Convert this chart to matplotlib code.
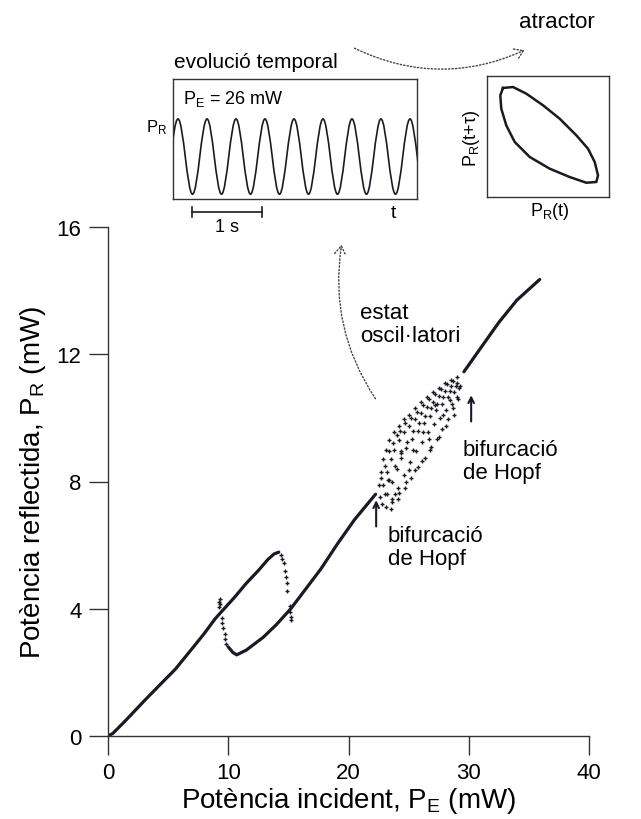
import matplotlib
matplotlib.use("Agg")
import matplotlib.pyplot as plt
from matplotlib.path import Path
from matplotlib.patches import PathPatch, FancyArrowPatch

plt.rcParams['font.family'] = ['Liberation Sans', 'DejaVu Sans']
plt.rcParams['mathtext.fontset'] = 'custom'
plt.rcParams['mathtext.rm'] = 'Liberation Sans'
plt.rcParams['mathtext.it'] = 'Liberation Sans:italic'

INK = '#1a1a24'

# ---------------- data ----------------
# upper stable branch starting at origin (mW)
up_x = [0.0, 0.4, 1.5, 3.0, 4.5, 5.6, 7.0, 8.0, 8.9, 9.3, 10.5, 11.5, 12.5, 13.3, 13.8, 14.2]
up_y = [0.0, 0.08, 0.5, 1.1, 1.68, 2.1, 2.75, 3.22, 3.68, 3.85, 4.35, 4.8, 5.2, 5.55, 5.72, 5.78]
# lower branch up to first Hopf bifurcation
low_x = [10.0, 10.4, 10.7, 11.5, 12.9, 14.0, 15.2, 16.5, 17.7, 19.1, 20.5, 22.25]
low_y = [2.8, 2.62, 2.55, 2.7, 3.1, 3.5, 4.0, 4.65, 5.25, 6.05, 6.8, 7.6]
# branch after the second Hopf bifurcation
top_x = [29.6, 31.0, 32.5, 34.0, 35.9]
top_y = [11.45, 12.2, 13.0, 13.7, 14.35]
# transition (jump) points
jump_x = [14.35, 14.5, 14.6, 14.75, 14.8, 14.9, 14.9, 15.1, 15.15, 15.2, 15.25,
          9.2, 9.25, 9.3, 9.35, 9.45, 9.5, 9.6, 9.7, 9.75, 9.85]
jump_y = [5.7, 5.55, 5.45, 5.2, 5.0, 4.8, 4.55, 4.1, 3.9, 3.75, 3.65,
          4.05, 4.2, 4.3, 4.15, 3.7, 3.55, 3.4, 3.2, 3.05, 2.9]
# oscillating-state samples between the two Hopf bifurcations
osc_x = [22.5, 22.7, 22.9, 23.1, 23.4, 23.8, 24.2, 24.6, 25.0, 25.5, 26.0, 26.5, 27.0, 27.5, 28.0, 28.5, 29.0,
         22.6, 22.9, 23.2, 23.5, 23.8, 24.2, 24.6, 25.0, 25.5, 26.0, 26.5, 27.0, 27.5, 28.0, 28.5, 29.0,
         22.8, 23.2, 23.6, 24.0, 24.4, 24.8, 25.3, 25.8, 26.3, 26.8, 27.3, 27.8, 28.3, 28.8, 29.2,
         23.1, 23.6, 24.1, 24.6, 25.1, 25.6, 26.1, 26.6, 27.1, 27.6, 28.1, 28.6, 29.0,
         23.5, 24.1, 24.7, 25.2, 25.8, 26.4, 26.9, 27.4, 27.8, 28.25, 28.7, 29.1, 29.3,
         23.3, 24.4, 25.4, 26.2, 27.2, 28.4, 23.9, 25.0, 26.7, 27.9,
         22.7, 23.0, 23.4, 23.7, 24.0, 24.3, 24.7, 25.2, 25.7, 26.2, 26.7, 27.2, 27.7, 28.2, 28.7,
         23.0, 23.4, 23.9, 24.4, 24.9, 25.4, 25.9, 26.4, 26.9, 27.4, 27.9, 28.4, 28.9,
         23.6, 24.2, 24.8, 25.5, 26.1, 26.8, 27.5, 28.1, 28.8]
osc_y = [7.9, 8.3, 8.7, 9.0, 9.3, 9.55, 9.75, 9.95, 10.1, 10.3, 10.5, 10.65, 10.8, 10.95, 11.1, 11.2, 11.3,
         7.5, 7.9, 8.3, 8.7, 9.0, 9.3, 9.55, 9.75, 9.95, 10.15, 10.35, 10.5, 10.7, 10.85, 11.0, 11.1,
         7.3, 7.6, 8.0, 8.4, 8.75, 9.05, 9.35, 9.6, 9.85, 10.05, 10.25, 10.45, 10.65, 10.8, 10.95,
         7.2, 7.45, 7.8, 8.2, 8.6, 8.95, 9.25, 9.55, 9.8, 10.0, 10.25, 10.45, 10.65,
         7.15, 7.45, 7.8, 8.1, 8.45, 8.75, 9.1, 9.35, 9.65, 9.95, 10.3, 10.6, 11.0,
         8.05, 8.95, 9.0, 9.55, 10.4, 10.55, 7.6, 8.35, 9.35, 10.1,
         8.1, 8.5, 8.95, 9.2, 9.45, 9.6, 9.85, 10.0, 10.2, 10.4, 10.6, 10.75, 10.9, 11.05, 11.15,
         7.6, 8.05, 8.5, 8.9, 9.25, 9.6, 9.85, 10.05, 10.3, 10.45, 10.65, 10.85, 11.0,
         7.35, 7.65, 8.0, 8.35, 8.65, 9.0, 9.4, 9.75, 10.1]

x_ticks = [0, 10, 20, 30, 40]
y_ticks = [0, 4, 8, 12, 16]

# time-trace inset: times (s) of successive maxima/minima and their levels
ext_t = [-0.136, 0.071, 0.279, 0.486, 0.693, 0.900, 1.107, 1.314, 1.521, 1.729, 1.936,
         2.143, 2.350, 2.557, 2.764, 2.971, 3.179, 3.386, 3.593]
ext_v = [0, 1, 0, 1, 0, 1, 0, 1, 0, 1, 0, 1, 0, 1, 0, 1, 0, 1, 0]
# attractor loop (normalised box units)
att_u = [0.131, 0.213, 0.322, 0.459, 0.596, 0.732, 0.828, 0.883, 0.910, 0.896, 0.814,
         0.678, 0.514, 0.350, 0.227, 0.158, 0.117, 0.109, 0.131]
att_v = [0.901, 0.909, 0.854, 0.758, 0.647, 0.510, 0.399, 0.289, 0.179, 0.124, 0.118,
         0.165, 0.234, 0.331, 0.455, 0.592, 0.730, 0.840, 0.901]

# ---------------- figure ----------------
W, H = 641, 820
fig = plt.figure(figsize=(W / 100, H / 100), dpi=100)


def fx(px):
    return px / W


def fy(py):
    return 1 - py / H


ax = fig.add_axes([fx(108), fy(737), fx(589) - fx(108), fy(228) - fy(737)])
ax.plot(up_x, up_y, color=INK, lw=2.3, solid_capstyle='round')
ax.plot(low_x, low_y, color=INK, lw=2.3, solid_capstyle='round')
ax.plot(top_x, top_y, color=INK, lw=2.3, solid_capstyle='round')
ax.plot(jump_x, jump_y, ls='none', marker='+', ms=3.5, mew=1.0, color=INK)
ax.plot(osc_x, osc_y, ls='none', marker='+', ms=3.5, mew=1.0, color=INK)

ax.set_xlim(0, 40)
ax.set_ylim(0, 16)
ax.set_xticks(x_ticks)
ax.set_yticks(y_ticks)
for s in ['top', 'right']:
    ax.spines[s].set_visible(False)
for s in ['left', 'bottom']:
    ax.spines[s].set_linewidth(1.0)
    ax.spines[s].set_color('#333333')
ax.tick_params(direction='out', length=14, width=1.0, color='#333333', labelsize=16, pad=5)
ax.set_xlabel(r'Potència incident, P$_{\mathrm{E}}$ (mW)', fontsize=20, labelpad=1)
ax.set_ylabel(r'Potència reflectida, P$_{\mathrm{R}}$ (mW)', fontsize=20, labelpad=6)

# annotations on the main plot
ax.annotate('', xy=(22.3, 7.5), xytext=(22.3, 6.5),
            arrowprops=dict(arrowstyle='->', lw=1.5, color=INK))
ax.annotate('', xy=(30.2, 10.8), xytext=(30.2, 9.8),
            arrowprops=dict(arrowstyle='->', lw=1.5, color=INK))
fig.text(fx(388), fy(548), 'bifurcació\nde Hopf', fontsize=16, va='center', ha='left', linespacing=1.1)
fig.text(fx(463), fy(462), 'bifurcació\nde Hopf', fontsize=16, va='center', ha='left', linespacing=1.1)
fig.text(fx(360), fy(325), 'estat\noscil·latori', fontsize=16, va='center', ha='left', linespacing=1.1)

# ---------------- time-trace inset ----------------
axt = fig.add_axes([fx(173), fy(200), fx(417) - fx(173), fy(80) - fy(200)])
verts = [(ext_t[0], ext_v[0])]
codes = [Path.MOVETO]
k = 0.3634
for i in range(len(ext_t) - 1):
    t0, t1 = ext_t[i], ext_t[i + 1]
    v0, v1 = ext_v[i], ext_v[i + 1]
    dt = t1 - t0
    verts += [(t0 + k * dt, v0), (t1 - k * dt, v1), (t1, v1)]
    codes += [Path.CURVE4] * 3
axt.add_patch(PathPatch(Path(verts, codes), fill=False, lw=1.2, color=INK))
axt.set_xlim(0, 3.486)
axt.set_ylim(-0.064, 1.531)
axt.set_xticks([])
axt.set_yticks([])
for s in axt.spines.values():
    s.set_linewidth(1.0)
    s.set_color('#333333')
axt.text(0.04, 0.84, r'P$_{\mathrm{E}}$ = 26 mW', transform=axt.transAxes, fontsize=13, va='center')

fig.text(fx(256), fy(62), 'evolució temporal', fontsize=15, ha='center', va='center')
fig.text(fx(157), fy(128), r'P$_{\mathrm{R}}$', fontsize=12, ha='center', va='center')
fig.text(fx(393), fy(214), 't', fontsize=14, ha='center', va='center')
fig.text(fx(227), fy(228), '1 s', fontsize=13, ha='center', va='center')
# 1 s scale bar
fig.add_artist(plt.Line2D([fx(192), fx(262)], [fy(213), fy(213)], lw=1.2, color=INK))
fig.add_artist(plt.Line2D([fx(192), fx(192)], [fy(208), fy(218)], lw=1.2, color=INK))
fig.add_artist(plt.Line2D([fx(262), fx(262)], [fy(208), fy(218)], lw=1.2, color=INK))

# ---------------- attractor inset ----------------
axa = fig.add_axes([fx(487), fy(198), fx(609) - fx(487), fy(77) - fy(198)])
axa.plot(att_u, att_v, color=INK, lw=1.8)
axa.set_xlim(0, 1)
axa.set_ylim(0, 1)
axa.set_xticks([])
axa.set_yticks([])
for s in axa.spines.values():
    s.set_linewidth(1.0)
    s.set_color('#333333')
fig.text(fx(557), fy(22), 'atractor', fontsize=16, ha='center', va='center')
fig.text(fx(550), fy(212), r'P$_{\mathrm{R}}$(t)', fontsize=13, ha='center', va='center')
fig.text(fx(471), fy(138), r'P$_{\mathrm{R}}$(t+τ)', fontsize=13, ha='center', va='center', rotation=90)

# ---------------- dotted curved arrows ----------------
a1 = FancyArrowPatch((fx(377), fy(402)), (fx(342), fy(243)), transform=fig.transFigure,
                     connectionstyle='arc3,rad=-0.2', arrowstyle='->,head_length=6,head_width=4',
                     linestyle=(0, (1, 1.5)), lw=1.0, color='#444444')
a2 = FancyArrowPatch((fx(352), fy(48)), (fx(527), fy(50)), transform=fig.transFigure,
                     connectionstyle='arc3,rad=0.24', arrowstyle='->,head_length=6,head_width=4',
                     linestyle=(0, (1, 1.5)), lw=1.0, color='#444444')
fig.add_artist(a1)
fig.add_artist(a2)

fig.savefig('out.png', dpi=100, facecolor='white')
